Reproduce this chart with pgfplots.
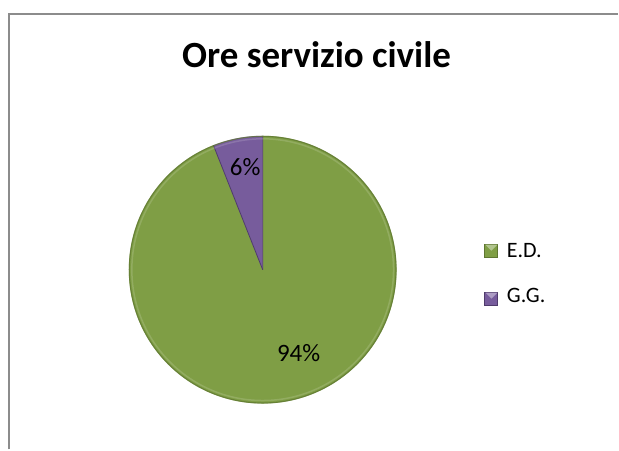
\documentclass[border=0pt]{standalone}
\usepackage{fontspec}
\setmainfont{Carlito}
\usepackage{pgfplots}
\usepackage{pgfplotstable}
\pgfplotsset{compat=1.18}

\definecolor{edgreen}{HTML}{7F9E45}
\definecolor{edgreendark}{HTML}{5E7631}
\definecolor{ggpurple}{HTML}{775C9C}
\definecolor{ggpurpledark}{HTML}{4F3B6B}
\definecolor{framegray}{HTML}{8C8C8C}

% share of hours per person
\pgfplotstableread{
label value
E.D.  94
G.G.  6
}\piedata

\pgfplotstablegetelem{0}{value}\of\piedata \let\valA\pgfplotsretval
\pgfplotstablegetelem{1}{value}\of\piedata \let\valB\pgfplotsretval
\pgfmathsetmacro\total{\valA+\valB}
\pgfmathsetmacro\fracA{\valA/\total}
\pgfmathsetmacro\fracB{\valB/\total}
\pgfmathsetmacro\angA{90-360*\fracA}
\pgfmathsetmacro\angB{\angA-360*\fracB}

\begin{document}
\begin{tikzpicture}
\begin{axis}[
    hide axis,
    scale only axis,
    width=619pt, height=450pt,
    xmin=0, xmax=619, ymin=0, ymax=450,
    clip=false,
]
\path (axis cs:0,0) rectangle (axis cs:619,450);
% frame
\draw[framegray, line width=1.5pt] (axis cs:9,0) -- (axis cs:9,436) -- (axis cs:619,436);

% title
\node[anchor=base, font=\fontsize{37}{40}\selectfont\bfseries] at (axis cs:317,382) {Ore servizio civile};

% slices
\fill[edgreen] (axis cs:263,180) -- +(90:134pt) arc[start angle=90, end angle=\angA, radius=134pt] -- cycle;
\fill[ggpurple] (axis cs:263,180) -- +(\angA:134pt) arc[start angle=\angA, end angle=\angB, radius=134pt] -- cycle;
\draw[ggpurpledark, line width=0.8pt] (axis cs:263,180) -- +(\angA:134pt);
\draw[ggpurpledark, line width=0.8pt] (axis cs:263,180) -- +(\angB:134pt);
\draw[edgreendark, line width=1.2pt, opacity=0.7] (axis cs:263,180) circle[radius=133.5pt];
\draw[white, line width=1.5pt, opacity=0.15] (axis cs:263,180) circle[radius=131pt];

% data labels
\node[anchor=base, font=\fontsize{25}{28}\selectfont] at (axis cs:299,88) {94\%};
\node[anchor=base, font=\fontsize{25}{28}\selectfont] at (axis cs:245.5,274) {6\%};

% legend
\fill[edgreendark] (axis cs:485,192) rectangle (axis cs:499,206);
\fill[edgreen] (axis cs:486,193) rectangle (axis cs:498,205);
\fill[edgreen!60!white] (axis cs:486,205) -- (axis cs:498,205) -- (axis cs:492,199) -- cycle;
\node[anchor=base west, font=\fontsize{22}{24}\selectfont] at (axis cs:504,192) {E.D.};

\fill[ggpurpledark] (axis cs:485,144) rectangle (axis cs:499,158);
\fill[ggpurple] (axis cs:486,145) rectangle (axis cs:498,157);
\fill[ggpurple!60!white] (axis cs:486,157) -- (axis cs:498,157) -- (axis cs:492,151) -- cycle;
\node[anchor=base west, font=\fontsize{22}{24}\selectfont] at (axis cs:504,147) {G.G.};
\end{axis}
\end{tikzpicture}
\end{document}
